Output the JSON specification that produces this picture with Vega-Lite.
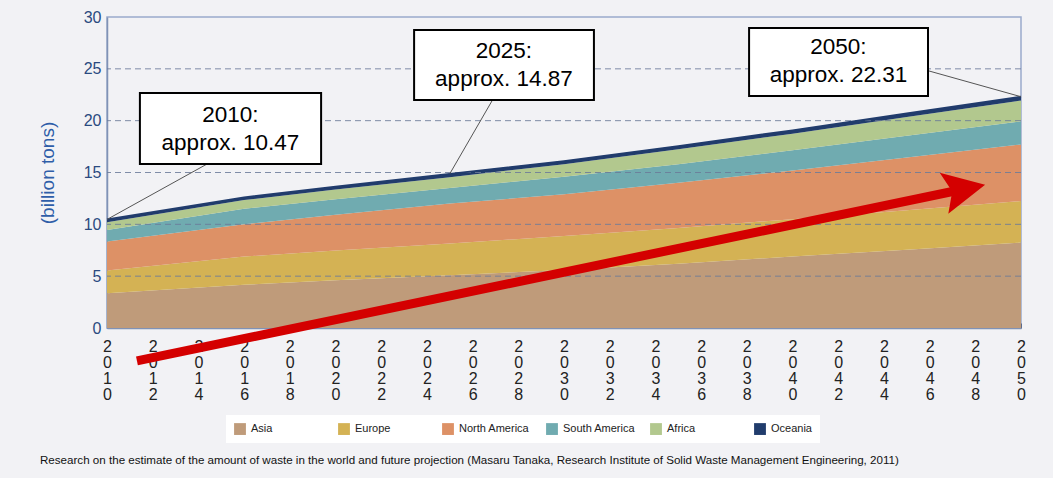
{
  "$schema": "https://vega.github.io/schema/vega-lite/v6.json",
  "width": 914,
  "height": 311,
  "autosize": {"type": "none"},
  "padding": {"left": 107, "top": 17, "right": 32, "bottom": 150},
  "background": "#f2f2f5",
  "config": {
    "view": {"stroke": "#9aabcc", "strokeWidth": 1.5},
    "font": "Liberation Sans"
  },
  "title": {
    "text": "Research on the estimate of the amount of waste in the world and future projection (Masaru Tanaka, Research Institute of Solid Waste Management Engineering, 2011)",
    "orient": "bottom",
    "anchor": "start",
    "frame": "group",
    "dx": -67,
    "offset": 12,
    "font": "Liberation Sans",
    "fontSize": 11.6,
    "fontWeight": "normal",
    "color": "#111111"
  },
  "datasets": {
    "waste": [
      {"year": 2010, "region": "Asia", "value": 3.35},
      {"year": 2010, "region": "Europe", "value": 2.2},
      {"year": 2010, "region": "North America", "value": 2.8},
      {"year": 2010, "region": "South America", "value": 1.1},
      {"year": 2010, "region": "Africa", "value": 0.75},
      {"year": 2010, "region": "Oceania", "value": 0.27},
      {"year": 2016, "region": "Asia", "value": 4.17},
      {"year": 2016, "region": "Europe", "value": 2.72},
      {"year": 2016, "region": "North America", "value": 3.11},
      {"year": 2016, "region": "South America", "value": 1.5},
      {"year": 2016, "region": "Africa", "value": 0.84},
      {"year": 2016, "region": "Oceania", "value": 0.26},
      {"year": 2020, "region": "Asia", "value": 4.6},
      {"year": 2020, "region": "Europe", "value": 2.88},
      {"year": 2020, "region": "North America", "value": 3.45},
      {"year": 2020, "region": "South America", "value": 1.5},
      {"year": 2020, "region": "Africa", "value": 0.93},
      {"year": 2020, "region": "Oceania", "value": 0.27},
      {"year": 2025, "region": "Asia", "value": 5.1},
      {"year": 2025, "region": "Europe", "value": 3.04},
      {"year": 2025, "region": "North America", "value": 3.86},
      {"year": 2025, "region": "South America", "value": 1.5},
      {"year": 2025, "region": "Africa", "value": 1.05},
      {"year": 2025, "region": "Oceania", "value": 0.32},
      {"year": 2030, "region": "Asia", "value": 5.6},
      {"year": 2030, "region": "Europe", "value": 3.28},
      {"year": 2030, "region": "North America", "value": 4.02},
      {"year": 2030, "region": "South America", "value": 1.7},
      {"year": 2030, "region": "Africa", "value": 1.2},
      {"year": 2030, "region": "Oceania", "value": 0.3},
      {"year": 2035, "region": "Asia", "value": 6.2},
      {"year": 2035, "region": "Europe", "value": 3.45},
      {"year": 2035, "region": "North America", "value": 4.35},
      {"year": 2035, "region": "South America", "value": 1.8},
      {"year": 2035, "region": "Africa", "value": 1.45},
      {"year": 2035, "region": "Oceania", "value": 0.3},
      {"year": 2040, "region": "Asia", "value": 6.9},
      {"year": 2040, "region": "Europe", "value": 3.6},
      {"year": 2040, "region": "North America", "value": 4.7},
      {"year": 2040, "region": "South America", "value": 1.95},
      {"year": 2040, "region": "Africa", "value": 1.6},
      {"year": 2040, "region": "Oceania", "value": 0.32},
      {"year": 2045, "region": "Asia", "value": 7.55},
      {"year": 2045, "region": "Europe", "value": 3.8},
      {"year": 2045, "region": "North America", "value": 5.1},
      {"year": 2045, "region": "South America", "value": 2.1},
      {"year": 2045, "region": "Africa", "value": 1.8},
      {"year": 2045, "region": "Oceania", "value": 0.34},
      {"year": 2050, "region": "Asia", "value": 8.24},
      {"year": 2050, "region": "Europe", "value": 4.0},
      {"year": 2050, "region": "North America", "value": 5.46},
      {"year": 2050, "region": "South America", "value": 2.24},
      {"year": 2050, "region": "Africa", "value": 2.01},
      {"year": 2050, "region": "Oceania", "value": 0.36}
    ],
    "gridlines": [{"value": 5}, {"value": 10}, {"value": 15}, {"value": 20}, {"value": 25}],
    "arrow": [
      {"year": 2011.31, "value": -3.17},
      {"year": 2047.53, "value": 13.41}
    ],
    "arrowhead": [{"year": 2047.53, "value": 13.41}],
    "notes": [
      {"text": "2010:\napprox. 10.47", "x0": 2011.44, "x1": 2019.37, "y0": 15.82, "y1": 22.67, "tx": 2015.4, "ty": 19.2, "px": 2010, "py": 10.47, "lx": 2014.38, "ly": 15.82},
      {"text": "2025:\napprox. 14.87", "x0": 2023.44, "x1": 2031.31, "y0": 21.99, "y1": 28.74, "tx": 2027.37, "ty": 25.37, "px": 2025, "py": 14.87, "lx": 2026.87, "ly": 21.99},
      {"text": "2050:\napprox. 22.31", "x0": 2038.1, "x1": 2045.93, "y0": 22.38, "y1": 28.94, "tx": 2042.01, "ty": 25.72, "px": 2050, "py": 22.31, "lx": 2045.93, "ly": 24.82}
    ]
  },
  "layer": [
    {
      "data": {"name": "waste"},
      "transform": [
        {"calculate": "indexof(['Asia','Europe','North America','South America','Africa','Oceania'], datum.region)", "as": "ord"}
      ],
      "mark": {"type": "area", "opacity": 1},
      "encoding": {
        "x": {
          "field": "year", "type": "quantitative",
          "scale": {"domain": [2010, 2050], "nice": false, "zero": false},
          "axis": {
            "title": null,
            "values": [2010,2011,2012,2013,2014,2015,2016,2017,2018,2019,2020,2021,2022,2023,2024,2025,2026,2027,2028,2029,2030,2031,2032,2033,2034,2035,2036,2037,2038,2039,2040,2041,2042,2043,2044,2045,2046,2047,2048,2049,2050],
            "format": "d",
            "labelExpr": "datum.value % 2 == 0 ? split(datum.label, '') : ''",
            "labelFontSize": 16,
            "labelLineHeight": 16,
            "labelColor": "#222222",
            "labelBaseline": "top",
            "labelPadding": 15,
            "labelOverlap": false,
            "labelFlush": false,
            "labelBound": false,
            "tickSize": -5,
            "tickColor": "#5b6b8c",
            "domainColor": "#8092b5",
            "domainWidth": 1.5,
            "grid": false
          }
        },
        "y": {
          "field": "value", "type": "quantitative", "stack": "zero",
          "scale": {"domain": [0, 30], "nice": false},
          "axis": {
            "title": "(billion tons)",
            "titleFontSize": 19,
            "titleFontWeight": "normal",
            "titleColor": "#2f5ea8",
            "titlePadding": 26,
            "values": [0, 5, 10, 15, 20, 25, 30],
            "labelFontSize": 16,
            "labelColor": "#2a4a80",
            "labelPadding": 6,
            "ticks": false,
            "grid": false,
            "domainColor": "#8092b5",
            "domainWidth": 1.5
          }
        },
        "color": {
          "field": "region", "type": "nominal",
          "scale": {
            "domain": ["Asia", "Europe", "North America", "South America", "Africa", "Oceania"],
            "range": ["#bf9b7a", "#d4b254", "#dd9166", "#70abb0", "#b2c88e", "#213c6c"]
          },
          "legend": {
            "title": null,
            "orient": "none",
            "legendX": 119,
            "legendY": 398,
            "direction": "horizontal",
            "columns": 6,
            "gridAlign": "all",
            "columnPadding": 14,
            "symbolType": "square",
            "symbolSize": 140,
            "symbolStrokeWidth": 0,
            "labelFont": "Liberation Sans",
            "labelFontSize": 11,
            "labelColor": "#222222",
            "labelOffset": 5,
            "fillColor": "white",
            "padding": 8
          }
        },
        "order": {"field": "ord", "type": "quantitative"}
      }
    },
    {
      "data": {"name": "gridlines"},
      "mark": {"type": "rule", "strokeDash": [6, 4], "color": "#6b7a99", "strokeWidth": 1, "opacity": 0.85},
      "encoding": {
        "y": {"field": "value", "type": "quantitative", "scale": {"domain": [0, 30], "nice": false}}
      }
    },
    {
      "data": {"name": "waste"},
      "transform": [{"aggregate": [{"op": "sum", "field": "value", "as": "total"}], "groupby": ["year"]}],
      "mark": {"type": "line", "color": "#213c6c", "strokeWidth": 1.8},
      "encoding": {
        "x": {"field": "year", "type": "quantitative", "scale": {"domain": [2010, 2050], "nice": false, "zero": false}},
        "y": {"field": "total", "type": "quantitative", "scale": {"domain": [0, 30], "nice": false}}
      }
    },
    {
      "data": {"name": "arrow"},
      "mark": {"type": "line", "color": "#d40000", "strokeWidth": 9, "strokeCap": "butt", "clip": false},
      "encoding": {
        "x": {"field": "year", "type": "quantitative", "scale": {"domain": [2010, 2050], "nice": false, "zero": false}},
        "y": {"field": "value", "type": "quantitative", "scale": {"domain": [0, 30], "nice": false}}
      }
    },
    {
      "data": {"name": "arrowhead"},
      "mark": {"type": "point", "shape": "M1,0 L-1,-1 L-0.6,0 L-1,1 Z", "size": 1764, "angle": -11.8, "filled": true, "color": "#d40000", "opacity": 1, "strokeWidth": 0},
      "encoding": {
        "x": {"field": "year", "type": "quantitative", "scale": {"domain": [2010, 2050], "nice": false, "zero": false}},
        "y": {"field": "value", "type": "quantitative", "scale": {"domain": [0, 30], "nice": false}}
      }
    },
    {
      "data": {"name": "notes"},
      "mark": {"type": "rule", "color": "#555555", "strokeWidth": 1},
      "encoding": {
        "x": {"field": "px", "type": "quantitative", "scale": {"domain": [2010, 2050], "nice": false, "zero": false}},
        "y": {"field": "py", "type": "quantitative", "scale": {"domain": [0, 30], "nice": false}},
        "x2": {"field": "lx"},
        "y2": {"field": "ly"}
      }
    },
    {
      "data": {"name": "notes"},
      "mark": {"type": "rect", "fill": "white", "stroke": "black", "strokeWidth": 2},
      "encoding": {
        "x": {"field": "x0", "type": "quantitative", "scale": {"domain": [2010, 2050], "nice": false, "zero": false}},
        "x2": {"field": "x1"},
        "y": {"field": "y0", "type": "quantitative", "scale": {"domain": [0, 30], "nice": false}},
        "y2": {"field": "y1"}
      }
    },
    {
      "data": {"name": "notes"},
      "mark": {"type": "text", "fontSize": 22.5, "lineHeight": 28, "lineBreak": "\n", "align": "center", "baseline": "middle", "dy": -14, "color": "black", "font": "Liberation Sans"},
      "encoding": {
        "x": {"field": "tx", "type": "quantitative", "scale": {"domain": [2010, 2050], "nice": false, "zero": false}},
        "y": {"field": "ty", "type": "quantitative", "scale": {"domain": [0, 30], "nice": false}},
        "text": {"field": "text"}
      }
    }
  ]
}
